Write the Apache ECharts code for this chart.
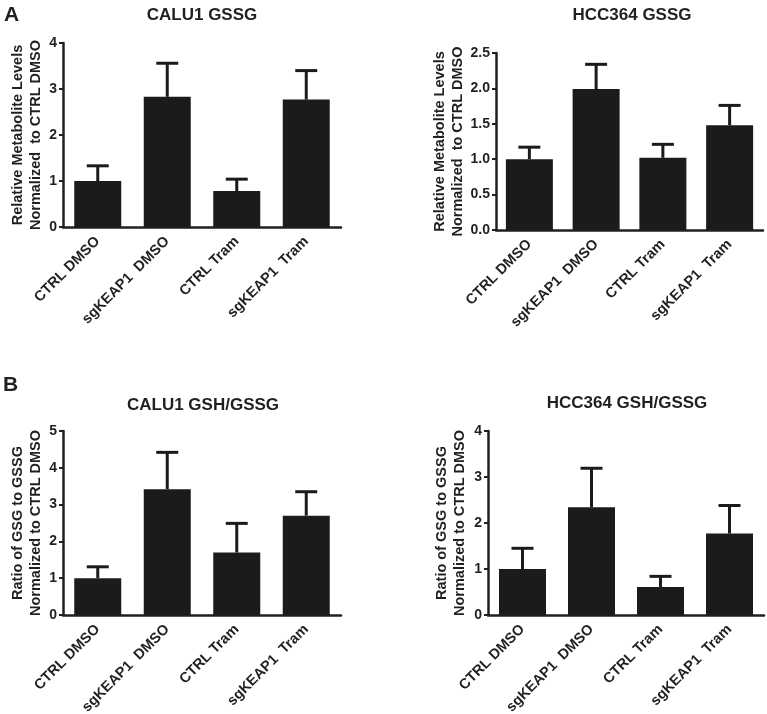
<!DOCTYPE html>
<html>
<head>
<meta charset="utf-8">
<script src="https://cdn.jsdelivr.net/npm/echarts@6/dist/echarts.min.js"></script>
<style>
html,body{margin:0;padding:0;background:#fff;}
#chart{width:767px;height:714px;}
</style>
</head>
<body>
<div id="chart"></div>
<script>
// ---- data ----
var categories = ['CTRL DMSO', 'sgKEAP1  DMSO', 'CTRL Tram', 'sgKEAP1  Tram'];

var calu1GssgMean = [1.00, 2.83, 0.78, 2.77];
var calu1GssgErr  = [0.33, 0.73, 0.26, 0.63];

var hcc364GssgMean = [1.00, 1.99, 1.02, 1.48];
var hcc364GssgErr  = [0.17, 0.35, 0.19, 0.28];

var calu1RatioMean = [1.00, 3.42, 1.70, 2.70];
var calu1RatioErr  = [0.31, 1.00, 0.79, 0.65];

var hcc364RatioMean = [1.00, 2.34, 0.61, 1.77];
var hcc364RatioErr  = [0.45, 0.85, 0.23, 0.61];

var panelTitles = ['CALU1 GSSG', 'HCC364 GSSG', 'CALU1 GSH/GSSG', 'HCC364 GSH/GSSG'];
var yNames = [
  'Relative Metabolite Levels\nNormalized  to CTRL DMSO',
  'Relative Metabolite Levels\nNormalized  to CTRL DMSO',
  'Ratio of GSG to GSSG\nNormalized to CTRL DMSO',
  'Ratio of GSG to GSSG\nNormalized to CTRL DMSO'
];
var yMax = [4, 2.5, 5, 4];
var yInterval = [1, 0.5, 1, 1];
var yDecimals = [0, 1, 0, 0];

// ---- layout ----
var INK = '#231f20';
var FONT = 'Liberation Sans, Arial, sans-serif';
var grids = [
  {left: 63, top: 43, width: 278, height: 184, outerBoundsMode: 'none', containLabel: false},
  {left: 496, top: 53, width: 267, height: 177, outerBoundsMode: 'none', containLabel: false},
  {left: 63, top: 431, width: 278, height: 184, outerBoundsMode: 'none', containLabel: false},
  {left: 488, top: 431, width: 276, height: 184, outerBoundsMode: 'none', containLabel: false}
];
var nameGaps = [15, 27, 15, 19];
var titlePos = [[202, 15], [632, 15], [203, 405], [627, 403]];

var means = [calu1GssgMean, hcc364GssgMean, calu1RatioMean, hcc364RatioMean];
var errs = [calu1GssgErr, hcc364GssgErr, calu1RatioErr, hcc364RatioErr];

var xAxes = [], yAxes = [], series = [], graphics = [];
for (var i = 0; i < 4; i++) {
  xAxes.push({
    type: 'category', gridIndex: i, data: categories,
    axisLine: {lineStyle: {color: INK, width: 2.5}},
    axisTick: {show: false},
    axisLabel: {rotate: 45, margin: 12, color: INK, fontWeight: 'bold', fontSize: 14.5, fontFamily: FONT, interval: 0}
  });
  (function (d) {
    yAxes.push({
      type: 'value', gridIndex: i, min: 0, max: yMax[i], interval: yInterval[i],
      name: yNames[i], nameLocation: 'middle', nameGap: nameGaps[i],
      nameTextStyle: {color: INK, fontWeight: 'bold', fontSize: 14.5, lineHeight: 18, fontFamily: FONT},
      axisLine: {show: true, lineStyle: {color: INK, width: 2.5}},
      axisTick: {show: true, length: 4, lineStyle: {color: INK, width: 2}},
      axisLabel: {margin: 6, color: INK, fontWeight: 'bold', fontSize: 14, fontFamily: FONT,
        formatter: function (v) { return v.toFixed(d); }},
      splitLine: {show: false}
    });
  })(yDecimals[i]);
  series.push({
    type: 'bar', xAxisIndex: i, yAxisIndex: i, data: means[i], barWidth: 47,
    itemStyle: {color: '#1c1a1b'}, z: 2
  });
  var errData = [];
  for (var k = 0; k < means[i].length; k++) errData.push([k, means[i][k], errs[i][k]]);
  series.push({
    type: 'custom', xAxisIndex: i, yAxisIndex: i, data: errData, z: 3,
    renderItem: function (params, api) {
      var idx = api.value(0), m = api.value(1), e = api.value(2);
      var p0 = api.coord([idx, m]);
      var p1 = api.coord([idx, m + e]);
      var cap = 11;
      var st = {stroke: '#1c1a1b', lineWidth: 3};
      return {type: 'group', children: [
        {type: 'line', shape: {x1: p0[0], y1: p0[1], x2: p1[0], y2: p1[1]}, style: st},
        {type: 'line', shape: {x1: p1[0] - cap, y1: p1[1], x2: p1[0] + cap, y2: p1[1]}, style: st}
      ]};
    }
  });
  graphics.push({
    type: 'text', x: titlePos[i][0], y: titlePos[i][1],
    style: {text: panelTitles[i], fill: INK, font: 'bold 17px ' + FONT,
      align: 'center', verticalAlign: 'middle', textAlign: 'center', textVerticalAlign: 'middle'}
  });
}
graphics.push({type: 'text', x: 4, y: 15, style: {text: 'A', fill: INK, font: 'bold 21px ' + FONT,
  align: 'left', verticalAlign: 'middle', textAlign: 'left', textVerticalAlign: 'middle'}});
graphics.push({type: 'text', x: 3, y: 385, style: {text: 'B', fill: INK, font: 'bold 21px ' + FONT,
  align: 'left', verticalAlign: 'middle', textAlign: 'left', textVerticalAlign: 'middle'}});

var chart = echarts.init(document.getElementById('chart'), null, {renderer: 'canvas'});
chart.setOption({
  animation: false,
  backgroundColor: '#ffffff',
  grid: grids,
  xAxis: xAxes,
  yAxis: yAxes,
  series: series,
  graphic: graphics
});
</script>
</body>
</html>
